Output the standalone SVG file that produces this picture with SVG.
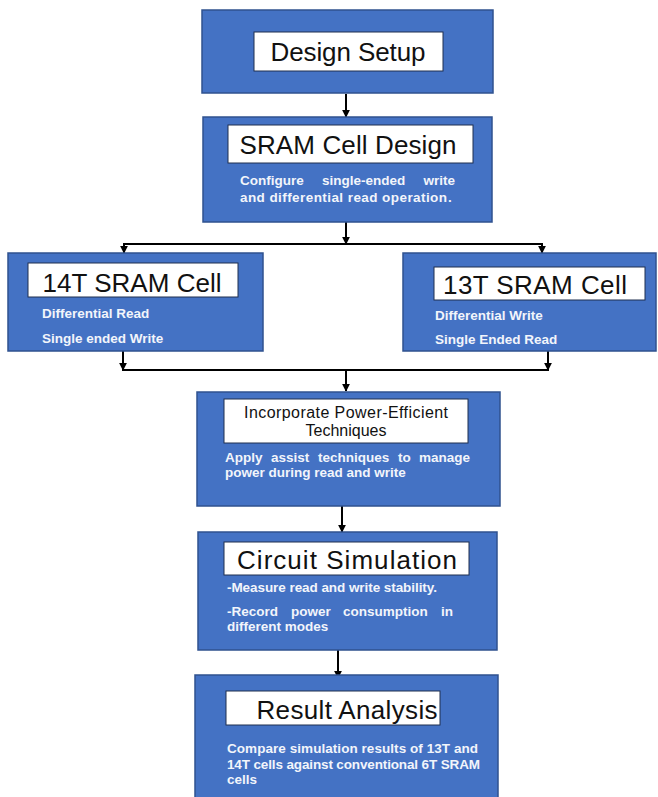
<svg xmlns="http://www.w3.org/2000/svg" width="658" height="797" viewBox="0 0 658 797">
  <style>
    .box { fill: #4472C4; stroke: #2F528F; stroke-width: 1.5; }
    .label { fill: #FFFFFF; stroke: #1F2F4F; stroke-width: 1; }
    .title { font-family: "Liberation Sans", Arial, sans-serif; font-size: 26px; fill: #111111; text-anchor: middle; }
    .title-sm { font-family: "Liberation Sans", Arial, sans-serif; font-size: 16px; fill: #111111; text-anchor: middle; }
    .desc { font-family: "Liberation Sans", Arial, sans-serif; font-size: 13.5px; font-weight: bold; fill: #F2F5FB; }
    .end { text-anchor: end; }
    .wire { fill: none; stroke: #000000; stroke-width: 2; }
    .arrow { fill: none; stroke: #000000; stroke-width: 2; marker-end: url(#head); }
  </style>
  <defs>
    <marker id="head" viewBox="0 0 10 10" refX="9" refY="5" markerWidth="4" markerHeight="4" orient="auto" markerUnits="strokeWidth">
      <path d="M0,0 L10,5 L0,10 Z" fill="#000000"/>
    </marker>
  </defs>

  <rect width="658" height="797" fill="#FFFFFF"/>

  <!-- connectors -->
  <g id="connectors">
    <line class="arrow" x1="346" y1="94" x2="346" y2="117"/>
    <line class="arrow" x1="346" y1="222" x2="346" y2="244"/>
    <polyline class="wire" points="124,254 124,244 542,244 542,254"/>
    <line class="arrow" x1="124" y1="244" x2="124" y2="253"/>
    <line class="arrow" x1="542" y1="244" x2="542" y2="253"/>
    <line class="arrow" x1="123" y1="351" x2="123" y2="370"/>
    <line class="arrow" x1="548" y1="351" x2="548" y2="370"/>
    <line class="wire" x1="122" y1="370" x2="549" y2="370"/>
    <line class="arrow" x1="346" y1="370" x2="346" y2="391"/>
    <line class="arrow" x1="342" y1="506" x2="342" y2="532"/>
    <line class="arrow" x1="338" y1="650" x2="338" y2="678"/>
  </g>

  <!-- Design Setup -->
  <g id="design-setup">
    <rect class="box" x="202" y="10" width="291" height="83"/>
    <rect class="label" x="254" y="32" width="189" height="39"/>
    <text class="title" x="348" y="61" textLength="155">Design Setup</text>
  </g>

  <!-- SRAM Cell Design -->
  <g id="sram-cell-design">
    <rect class="box" x="203" y="117" width="289" height="105"/>
    <rect class="label" x="228" y="125" width="245" height="38"/>
    <text class="title" x="348" y="154" textLength="217">SRAM Cell Design</text>
    <text class="desc" x="240" y="185">Configure</text>
    <text class="desc" x="322" y="185">single-ended</text>
    <text class="desc end" x="455" y="185">write</text>
    <text class="desc" x="240" y="202" textLength="207">and differential read operation</text>
    <text class="desc" x="448" y="202" fill="#1F2F4F">.</text>
  </g>

  <!-- 14T SRAM Cell -->
  <g id="cell-14t">
    <rect class="box" x="8" y="253" width="255" height="98"/>
    <rect class="label" x="28" y="263" width="210" height="34"/>
    <text class="title" x="132" y="292" textLength="179">14T SRAM Cell</text>
    <text class="desc" x="42" y="318">Differential Read</text>
    <text class="desc" x="42" y="343">Single ended Write</text>
  </g>

  <!-- 13T SRAM Cell -->
  <g id="cell-13t">
    <rect class="box" x="403" y="253" width="253" height="98"/>
    <rect class="label" x="434" y="267" width="211" height="33"/>
    <text class="title" x="535" y="294" textLength="184">13T SRAM Cell</text>
    <text class="desc" x="435" y="320">Differential Write</text>
    <text class="desc" x="435" y="344">Single Ended Read</text>
  </g>

  <!-- Incorporate Power-Efficient Techniques -->
  <g id="power-techniques">
    <rect class="box" x="197" y="392" width="303" height="114"/>
    <rect class="label" x="224" y="399" width="244" height="44"/>
    <text class="title-sm" x="346" y="418" textLength="204">Incorporate Power-Efficient</text>
    <text class="title-sm" x="346" y="436">Techniques</text>
    <text class="desc" x="225" y="462">Apply</text>
    <text class="desc" x="271" y="462">assist</text>
    <text class="desc" x="318" y="462">techniques</text>
    <text class="desc" x="398" y="462">to</text>
    <text class="desc end" x="470" y="462">manage</text>
    <text class="desc" x="225" y="477">power during read and write</text>
  </g>

  <!-- Circuit Simulation -->
  <g id="circuit-simulation">
    <rect class="box" x="198" y="532" width="299" height="118"/>
    <rect class="label" x="224" y="542" width="245" height="33"/>
    <text class="title" x="347" y="569" textLength="220">Circuit Simulation</text>
    <text class="desc" x="227" y="592" textLength="210">-Measure read and write stability.</text>
    <text class="desc" x="227" y="616">-Record</text>
    <text class="desc" x="291" y="616">power</text>
    <text class="desc" x="343" y="616">consumption</text>
    <text class="desc end" x="453" y="616">in</text>
    <text class="desc" x="227" y="631">different modes</text>
  </g>

  <!-- Result Analysis -->
  <g id="result-analysis">
    <rect class="box" x="195" y="675" width="303" height="130"/>
    <rect class="label" x="226" y="691" width="214" height="34"/>
    <text class="title" x="347" y="719" textLength="181">Result Analysis</text>
    <text class="desc" x="227" y="753" textLength="251">Compare simulation results of 13T and</text>
    <text class="desc" x="227" y="769" textLength="253">14T cells against conventional 6T SRAM</text>
    <text class="desc" x="227" y="784">cells</text>
  </g>
</svg>
